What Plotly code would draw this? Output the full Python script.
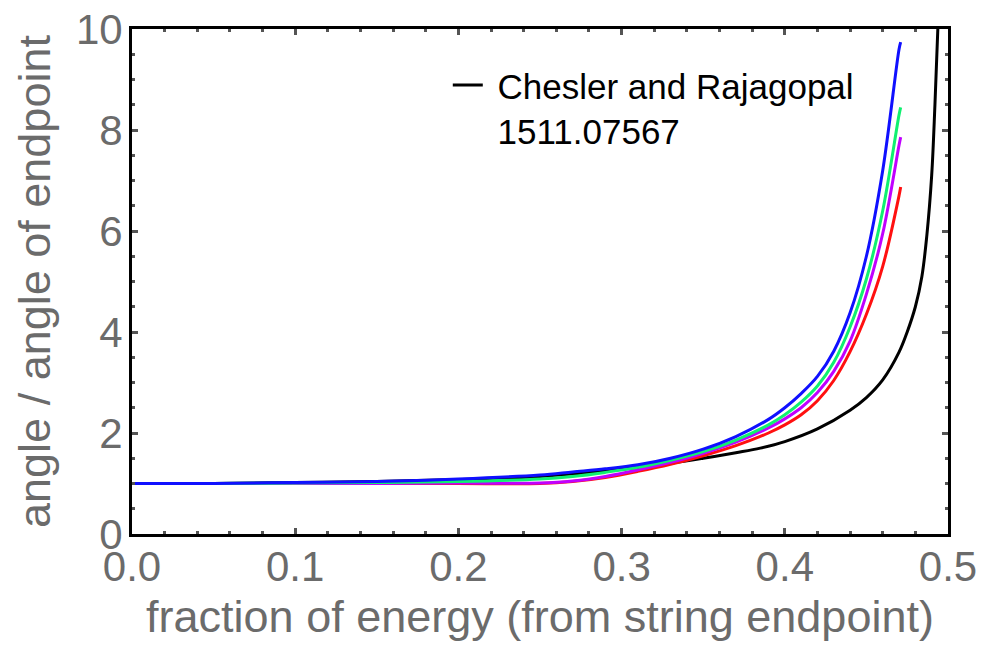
import plotly.graph_objects as go

# Energy fraction measured from the string endpoint
x_cr = [0.0, 0.05, 0.1, 0.15, 0.2, 0.25, 0.3, 0.33, 0.35, 0.37, 0.385, 0.4, 0.42, 0.44, 0.45,
        0.46, 0.47, 0.475, 0.48, 0.484, 0.487, 0.49, 0.492, 0.494, 0.496]
y_cr = [1.0, 1.0, 1.02, 1.04, 1.08, 1.14, 1.28, 1.4, 1.5, 1.61, 1.7, 1.83, 2.08, 2.45, 2.7,
        3.05, 3.6, 4.0, 4.5, 5.1, 5.9, 7.1, 8.5, 10.2, 12.5]

x_col = [0.0, 0.05, 0.1, 0.15, 0.2, 0.25, 0.27, 0.29, 0.31, 0.33, 0.35, 0.37, 0.39, 0.4, 0.41,
         0.42, 0.43, 0.44, 0.45, 0.46, 0.47, 0.471]
y_blue = [1.0, 1.0, 1.02, 1.04, 1.09, 1.17, 1.23, 1.29, 1.37, 1.5, 1.68, 1.93, 2.27, 2.5, 2.78,
          3.12, 3.62, 4.38, 5.5, 7.2, 9.6, 9.74]
y_green = [1.0, 1.0, 1.01, 1.02, 1.04, 1.09, 1.14, 1.22, 1.32, 1.46, 1.63, 1.86, 2.16, 2.36, 2.61,
           2.93, 3.4, 4.1, 5.05, 6.4, 8.3, 8.45]
y_magenta = [1.0, 1.0, 1.0, 1.0, 1.01, 1.01, 1.05, 1.14, 1.27, 1.42, 1.6, 1.82, 2.1, 2.28, 2.5,
             2.8, 3.22, 3.82, 4.75, 5.95, 7.7, 7.86]
y_red = [1.0, 1.0, 1.0, 1.0, 1.0, 1.0, 1.04, 1.12, 1.24, 1.38, 1.55, 1.75, 2.0, 2.16, 2.36,
         2.64, 3.04, 3.61, 4.35, 5.3, 6.7, 6.87]

colored = [
    ("red", y_red, "#ff1010"),
    ("magenta", y_magenta, "#c000ff"),
    ("green", y_green, "#10f070"),
    ("blue", y_blue, "#1010ff"),
]

x_ticks = [0.0, 0.1, 0.2, 0.3, 0.4, 0.5]
y_ticks = [0, 2, 4, 6, 8, 10]

fig = go.Figure()
fig.add_trace(go.Scatter(
    x=x_cr, y=y_cr, mode="lines", line=dict(color="black", width=3, shape="spline"),
    name="\u00a0Chesler and Rajagopal<br>\u00a01511.07567", showlegend=True,
))
for name, ys, col in colored:
    fig.add_trace(go.Scatter(
        x=x_col, y=ys, mode="lines", line=dict(color=col, width=3, shape="spline"),
        name=name, showlegend=False,
    ))

tick_font = dict(family="Liberation Sans, Arial, sans-serif", size=42, color="#6b6b6b")
title_font = dict(family="Liberation Sans, Arial, sans-serif", size=45, color="#6b6b6b")

fig.update_layout(
    width=981, height=651,
    margin=dict(l=132, r=33, t=29, b=117, autoexpand=False),
    paper_bgcolor="white", plot_bgcolor="white",
    legend=dict(
        x=0.387, y=0.947, xanchor="left", yanchor="top", valign="top",
        font=dict(family="Liberation Sans, Arial, sans-serif", size=35, color="black"),
        bgcolor="rgba(0,0,0,0)", itemwidth=30, tracegroupgap=0,
    ),
)
fig.update_xaxes(
    range=[0, 0.5], tickvals=x_ticks, tickformat=".1f", automargin=False,
    showline=True, linecolor="black", linewidth=3, mirror="allticks",
    ticks="inside", ticklen=6, tickwidth=3, tickcolor="#555555",
    minor=dict(dtick=0.02, ticks="inside", ticklen=3, tickwidth=3, tickcolor="#555555"),
    showgrid=False, zeroline=False, tickfont=tick_font, ticklabelstandoff=-6,
    title=dict(text="fraction of energy (from string endpoint)", font=title_font, standoff=12),
)
fig.update_yaxes(
    range=[0, 10], tickvals=y_ticks, automargin=False,
    showline=True, linecolor="black", linewidth=3, mirror="allticks",
    ticks="inside", ticklen=6, tickwidth=3, tickcolor="#555555",
    minor=dict(dtick=0.5, ticks="inside", ticklen=3, tickwidth=3, tickcolor="#555555"),
    showgrid=False, zeroline=False, tickfont=tick_font, ticklabelstandoff=-2,
    title=dict(text="angle / angle of endpoint", font=title_font, standoff=12),
)

fig.write_html("out.html")
